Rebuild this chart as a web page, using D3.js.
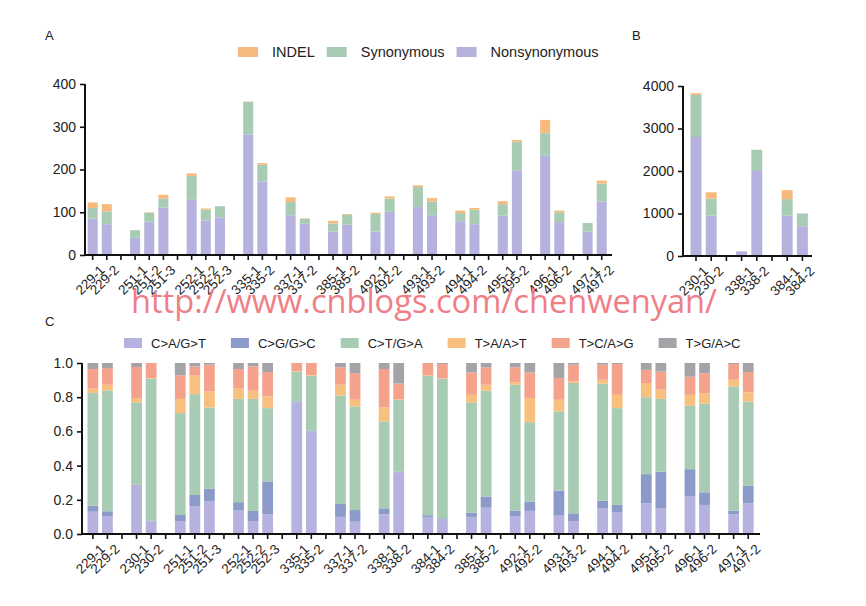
<!DOCTYPE html>
<html><head><meta charset="utf-8">
<script src="https://cdn.jsdelivr.net/npm/d3@7/dist/d3.min.js"></script>
<style>body{margin:0;background:#fff}svg{display:block}text{font-family:"Liberation Sans",Arial,sans-serif;fill:#222}</style>
</head><body><svg id="c" width="866" height="606"></svg>
<script>
// ---------- Panel A data ----------
const samplesA = ["229-1","229-2","251-1","251-2","251-3","252-1","252-2","252-3","335-1","335-2","337-1","337-2","385-1","385-2","492-1","492-2","493-1","493-2","494-1","494-2","495-1","495-2","496-1","496-2","497-1","497-2"];
const nonsynA = [85,72,40,78,111,129,81,88,282,172,93,73,55,71,55,101,112,93,79,72,92,198,232,77,55,125];
const synA    = [25,30,18,21,21,56,25,26,76,39,31,12,19,23,41,31,47,32,19,34,27,67,53,23,20,42];
const indelA  = [13,17,0,1,9,6,3,0,1,4,11,1,6,2,3,5,4,8,6,4,7,4,31,4,0,7];
const ticksA = [0,100,200,300,400];
// ---------- Panel B data ----------
const samplesB = ["230-1","230-2","338-1","338-2","384-1","384-2"];
const nonsynB = [2800,950,110,2000,950,700];
const synB    = [990,400,0,500,390,300];
const indelB  = [40,150,0,0,210,0];
const ticksB = [0,1000,2000,3000,4000];
// ---------- Panel C data ----------
const samplesC = ["229-1","229-2","230-1","230-2","251-1","251-2","251-3","252-1","252-2","252-3","335-1","335-2","337-1","337-2","338-1","338-2","384-1","384-2","385-1","385-2","492-1","492-2","493-1","493-2","494-1","494-2","495-1","495-2","496-1","496-2","497-1","497-2"];
const cA = [0.13,0.105,0.283,0.074,0.076,0.164,0.19,0.14,0.076,0.115,0.77,0.6,0.10,0.072,0.115,0.361,0.10,0.086,0.10,0.154,0.105,0.135,0.111,0.076,0.15,0.125,0.18,0.15,0.219,0.17,0.115,0.18];
const cG = [0.035,0.028,0.005,0.004,0.035,0.064,0.075,0.046,0.059,0.192,0.005,0.004,0.076,0.068,0.035,0.004,0.01,0.006,0.025,0.065,0.032,0.055,0.143,0.045,0.045,0.045,0.17,0.215,0.16,0.074,0.022,0.101];
const cT = [0.66,0.707,0.482,0.83,0.596,0.59,0.475,0.604,0.655,0.429,0.175,0.322,0.634,0.606,0.508,0.42,0.815,0.816,0.645,0.619,0.736,0.464,0.463,0.762,0.684,0.566,0.45,0.425,0.371,0.518,0.726,0.494];
const tA = [0.025,0.033,0.025,0.004,0.083,0.108,0.094,0.063,0.048,0.069,0.003,0.004,0.063,0.039,0.082,0.004,0.002,0.004,0.044,0.035,0.014,0.141,0.068,0.01,0.023,0.078,0.083,0.054,0.064,0.062,0.039,0.053];
const tC = [0.115,0.097,0.182,0.088,0.138,0.054,0.156,0.112,0.142,0.142,0.047,0.07,0.102,0.155,0.225,0.091,0.073,0.082,0.131,0.102,0.088,0.15,0.127,0.097,0.088,0.18,0.077,0.106,0.106,0.116,0.092,0.119];
const tG = [0.035,0.03,0.023,0,0.072,0.02,0.01,0.035,0.02,0.053,0,0,0.025,0.06,0.035,0.12,0,0.006,0.055,0.025,0.025,0.055,0.088,0.01,0.01,0.006,0.04,0.05,0.08,0.06,0.006,0.053];
const ticksC = [0,0.2,0.4,0.6,0.8,1.0];

const varLabels = ["INDEL","Synonymous","Nonsynonymous"];
const varColors = {"Nonsynonymous":"#b6b2df","Synonymous":"#a8cbb3","INDEL":"#f6bb7c"};
const mutLabels = ["C>A/G>T","C>G/G>C","C>T/G>A","T>A/A>T","T>C/A>G","T>G/A>C"];
const mutColors = ["#b6b2df","#8b9ac8","#a8cbb3","#f8c07f","#f4a28c","#a4a4a8"];

const svg = d3.select("#c");

// build slot list with gap slots where sample group changes
function slots(samples){
  const out=[]; let prev=null;
  samples.forEach((s,i)=>{const g=s.split("-")[0]; if(prev!==null && g!==prev) out.push("gap"+i); out.push(s); prev=g;});
  return out;
}

function panel(o){
  const g = svg.append("g");
  const dom = slots(o.samples);
  const x = d3.scaleBand().domain(dom).range(o.xr).paddingInner(o.pad).paddingOuter(o.pad/2);
  const y = d3.scaleLinear().domain([0,o.ymax]).range(o.yr);
  const rows = o.samples.map((s,i)=>{const r={s}; o.keys.forEach((k,j)=>r[k]=o.series[j][i]); return r;});
  const stack = d3.stack().keys(o.keys)(rows);
  g.selectAll("g.s").data(stack).join("g").attr("fill",(d,i)=>o.colors[i])
    .selectAll("rect").data(d=>d).join("rect")
    .attr("x",d=>x(d.data.s)).attr("width",x.bandwidth())
    .attr("y",d=>y(d[1])).attr("height",d=>Math.max(0,y(d[0])-y(d[1])));
  // y axis
  const ya = g.append("g").attr("transform",`translate(${o.axX},0)`)
    .call(d3.axisLeft(y).tickValues(o.ticks).tickSize(5).tickPadding(4).tickFormat(o.fmt));
  ya.select(".domain").attr("stroke","#111").attr("stroke-width",2).attr("d",`M0,${o.yr[0]}V${o.yr[1]}`);
  ya.selectAll(".tick line").attr("stroke","#111").attr("stroke-width",1.6);
  ya.selectAll("text").attr("font-size",14).style("fill","#222");
  // x axis
  const xa = g.append("g").attr("transform",`translate(0,${o.yr[0]})`)
    .call(d3.axisBottom(x).tickSize(5).tickPadding(3).tickFormat(d=>d.startsWith("gap")?"":d));
  xa.select(".domain").attr("stroke","#111").attr("stroke-width",2).attr("d",`M${o.axX},0H${o.axEnd}`);
  xa.selectAll(".tick line").attr("stroke","#111").attr("stroke-width",1.6);
  xa.selectAll("text").attr("font-size",13.5).style("fill","#222")
    .attr("text-anchor","end").attr("dy","0.35em").attr("transform","translate(4,7) rotate(-45)");
  return g;
}

panel({samples:samplesA, keys:["Nonsynonymous","Synonymous","INDEL"], series:[nonsynA,synA,indelA],
  colors:[varColors.Nonsynonymous,varColors.Synonymous,varColors.INDEL],
  xr:[85.6,608.8], yr:[255,84], ymax:400, ticks:ticksA, fmt:d3.format("d"), pad:0.29, axX:85, axEnd:612});
panel({samples:samplesB, keys:["Nonsynonymous","Synonymous","INDEL"], series:[nonsynB,synB,indelB],
  colors:[varColors.Nonsynonymous,varColors.Synonymous,varColors.INDEL],
  xr:[688.4,810], yr:[256,86], ymax:4000, ticks:ticksB, fmt:d3.format("d"), pad:0.28, axX:683, axEnd:812});
panel({samples:samplesC, keys:mutLabels, series:[cA,cG,cT,tA,tC,tG], colors:mutColors,
  xr:[85.6,755.5], yr:[534,363], ymax:1, ticks:ticksC, fmt:d3.format(".1f"), pad:0.26, axX:82, axEnd:760});

// panel letters
[["A",45,40],["B",632,40],["C",45,326]].forEach(([t,xx,yy])=>svg.append("text").attr("x",xx).attr("y",yy).attr("font-size",13).text(t));

// legends
function legend(items, colors, x0, yc, gap, sw, fs, tg){
  let xx=x0;
  items.forEach((t,i)=>{
    svg.append("rect").attr("x",xx).attr("y",yc-5).attr("width",sw).attr("height",10).attr("fill",colors[i]);
    const tx=svg.append("text").attr("x",xx+sw+tg).attr("y",yc).attr("dy","0.35em").attr("font-size",fs).text(t);
    xx += sw+tg+tx.node().getComputedTextLength()+gap;
  });
}
legend(varLabels, varLabels.map(l=>varColors[l]), 238, 52, 12, 20, 14.5, 14);
legend(mutLabels, mutColors, 124, 343, 25, 18, 13, 9);

// watermark
svg.append("text").attr("x",131).attr("y",313).attr("font-size",32.6)
  .style("font-family","'Open Sans',sans-serif").style("fill","#ef7e86").text("http://www.cnblogs.com/chenwenyan/");
</script></body></html>
